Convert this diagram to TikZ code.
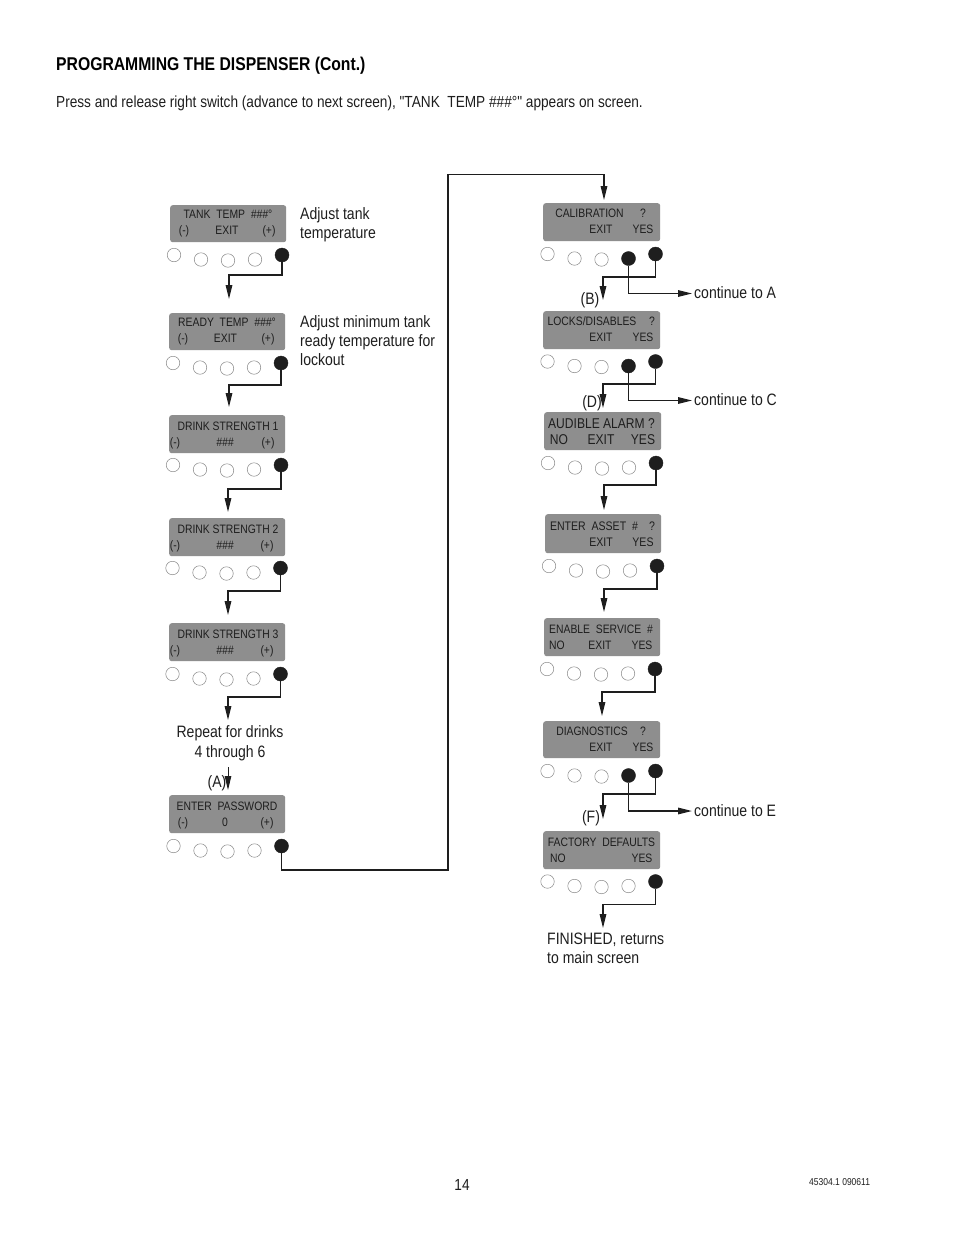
\documentclass[tikz,border=0pt]{standalone}
\usepackage{fontspec}
\setmainfont[FakeStretch=0.85]{Liberation Sans}
\newfontfamily\plainf[FakeStretch=0.85]{Liberation Sans}
\usetikzlibrary{arrows.meta}
\definecolor{lcd}{HTML}{8E8E8E}
\definecolor{ink}{HTML}{1E1E1E}
\definecolor{rim}{HTML}{8A8A8A}
\tikzset{
  x=1pt,y=-1pt,
  lcdbox/.style={draw=none,fill=lcd,rounded corners=2.5pt},
  lcdtxt/.style={anchor=base,inner sep=0pt,text=ink,font=\fontsize{12.2}{14}\selectfont},
  lcdbig/.style={lcdtxt,font=\fontsize{14.2}{17}\selectfont},
  lcdmid/.style={lcdtxt,font=\fontsize{12.4}{15}\selectfont},
  btnoff/.style={circle,draw=rim,line width=0.5pt,fill=white,minimum size=13.5pt,inner sep=0pt},
  btnon/.style={circle,draw=ink,fill=ink,minimum size=14pt,inner sep=0pt},
  conn/.style={draw=ink,line width=1.4pt,-{Triangle[length=14pt,width=6.5pt]}},
  lbl/.style={anchor=base west,inner sep=0pt,text=ink,align=left,font=\fontsize{16.5}{19}\selectfont},
  lblc/.style={anchor=base,inner sep=0pt,text=ink,align=center,font=\fontsize{16.5}{19.5}\selectfont},
}
\newcommand{\hh}{\textit{\#\#\#}}
% name, x0,y0,x1,y1
\newcommand{\lcdp}[5]{\node[lcdbox,anchor=north west,minimum width=#4pt-#2pt,minimum height=#5pt-#3pt,inner sep=0pt] (#1) at (#2,#3) {};}
% name, x of first, y of first, fourth style
\newcommand{\btns}[4]{%
  \node[btnoff] (#1a) at (#2,#3) {};
  \node[btnoff] (#1b) at ({#2+27},{#3+4.5}) {};
  \node[btnoff] (#1c) at ({#2+54},{#3+5.5}) {};
  \node[#4] (#1d) at ({#2+81},{#3+4.5}) {};
  \node[btnon] (#1e) at ({#2+108},{#3}) {};}
% source, x, elbow y, tip y
\newcommand{\cn}[4]{%
  \coordinate (#1E) at (#2,#3);
  \coordinate (#1T) at (#2,#4);
  \draw[conn] (#1.south) |- (#1E) -- (#1T);}
% source, elbow y, tip x
\newcommand{\cnr}[3]{%
  \coordinate (#1E) at (#3,#2);
  \draw[conn] (#1.south) |- (#1E);}
\begin{document}
\begin{tikzpicture}
\useasboundingbox (0,0) rectangle (954,1235);
\fill[white] (0,0) rectangle (954,1235);
\node[anchor=base west,inner sep=0pt,text=black,font=\fontsize{18.5}{20}\selectfont\bfseries] (title) at (56,70) {PROGRAMMING THE DISPENSER (Cont.)};
\node[anchor=base west,inner sep=0pt,text=ink,font=\fontsize{16.05}{18}\selectfont\plainf] (intro) at (56,107) {Press and release right switch (advance to next screen), "TANK~~TEMP \#\#\#°" appears on screen.};

% ---- left column
\lcdp{p1}{170}{205}{286}{242}
\node[lcdtxt] (p1t) at (228,218) {TANK~~TEMP~~\hh°};
\node[lcdtxt] (p1l) at (184,234) {(-)};
\node[lcdtxt] (p1m) at (227,234) {EXIT};
\node[lcdtxt] (p1r) at (269,234) {(+)};
\btns{a}{174}{255}{btnoff}

\lcdp{p2}{169}{313}{285}{350}
\node[lcdtxt] (p2t) at (227,326) {READY~~TEMP~~\hh°};
\node[lcdtxt] (p2l) at (183,342) {(-)};
\node[lcdtxt] (p2m) at (225.5,342) {EXIT};
\node[lcdtxt] (p2r) at (268,342) {(+)};
\btns{b}{173}{363}{btnoff}

\lcdp{p3}{169}{415}{285}{453}
\node[lcdtxt] (p3t) at (228,430) {DRINK STRENGTH 1};
\node[lcdtxt] (p3l) at (175,446) {(-)};
\node[lcdtxt] (p3m) at (225,446) {\hh};
\node[lcdtxt] (p3r) at (268,446) {(+)};
\btns{c}{173}{465}{btnoff}

\lcdp{p4}{169}{518}{285}{556}
\node[lcdtxt] (p4t) at (228,533) {DRINK STRENGTH 2};
\node[lcdtxt] (p4l) at (175,549) {(-)};
\node[lcdtxt] (p4m) at (225,549) {\hh};
\node[lcdtxt] (p4r) at (267,549) {(+)};
\btns{d}{172.5}{568}{btnoff}

\lcdp{p5}{169}{623}{285}{661}
\node[lcdtxt] (p5t) at (228,638) {DRINK STRENGTH 3};
\node[lcdtxt] (p5l) at (175,654) {(-)};
\node[lcdtxt] (p5m) at (225,654) {\hh};
\node[lcdtxt] (p5r) at (267,654) {(+)};
\btns{e}{172.5}{674}{btnoff}

\lcdp{p6}{169}{795}{285}{833}
\node[lcdtxt] (p6t) at (227,810) {ENTER~~PASSWORD};
\node[lcdtxt] (p6l) at (183,826) {(-)};
\node[lcdtxt] (p6m) at (225,826) {0};
\node[lcdtxt] (p6r) at (267,826) {(+)};
\btns{f}{173.5}{846}{btnoff}

\node[lbl] (n1) at (300,238) {Adjust tank\\temperature};
\node[lbl] (n2) at (300,365.5) {Adjust minimum tank\\ready temperature for\\lockout};
\node[lblc] (n3) at (230,757) {Repeat for drinks\\4 through 6};
\node[lblc] (nA) at (217,787) {(A)};

\cn{ae}{229}{275}{299}
\cn{be}{229}{385}{407}
\cn{ce}{228}{489}{512}
\cn{de}{228}{591}{615}
\cn{ee}{228}{697}{720}
\coordinate (aS) at (228,767);
\coordinate (aT) at (228,790);
\draw[draw=ink,line width=1pt,-{Triangle[length=14pt,width=6.5pt]}] (aS) -- (aT);

% long link
\coordinate (L1) at (448,870);
\coordinate (L2) at (448,174.5);
\coordinate (L3) at (604,174.5);
\coordinate (L4) at (604,200);
\draw[conn] (fe.south) |- (L1) -- (L2) -- (L3) -- (L4);

% ---- right column
\lcdp{q1}{543}{203}{660}{241}
\node[lcdtxt] (q1t) at (589.5,217) {CALIBRATION};
\node[lcdtxt] (q1q) at (643,217) {?};
\node[lcdtxt] (q1m) at (601,233) {EXIT};
\node[lcdtxt] (q1r) at (643,233) {YES};
\btns{g}{547.5}{254}{btnon}

\lcdp{q2}{543}{311}{660}{349}
\node[lcdtxt] (q2t) at (592,325) {LOCKS/DISABLES};
\node[lcdtxt] (q2q) at (652,325) {?};
\node[lcdtxt] (q2m) at (601,341) {EXIT};
\node[lcdtxt] (q2r) at (643,341) {YES};
\btns{h}{547.5}{361.5}{btnon}

\lcdp{q3}{544}{412}{661}{450}
\node[lcdbig] (q3t) at (601.5,428) {AUDIBLE ALARM ?};
\node[lcdbig] (q3l) at (559,444) {NO};
\node[lcdbig] (q3m) at (601,444) {EXIT};
\node[lcdbig] (q3r) at (643,444) {YES};
\btns{i}{548}{463}{btnoff}

\lcdp{q4}{545}{514}{661}{553}
\node[lcdmid] (q4t) at (594,530) {ENTER~~ASSET~~\#};
\node[lcdmid] (q4q) at (652,530) {?};
\node[lcdmid] (q4m) at (601,546) {EXIT};
\node[lcdmid] (q4r) at (643,546) {YES};
\btns{j}{549}{566}{btnoff}

\lcdp{q5}{544}{618}{660}{656}
\node[lcdtxt] (q5t) at (601,633) {ENABLE~~SERVICE~~\#};
\node[lcdtxt] (q5l) at (557,649) {NO};
\node[lcdtxt] (q5m) at (600,649) {EXIT};
\node[lcdtxt] (q5r) at (642,649) {YES};
\btns{k}{547}{669}{btnoff}

\lcdp{q6}{543}{721}{660}{758}
\node[lcdtxt] (q6t) at (592,735) {DIAGNOSTICS};
\node[lcdtxt] (q6q) at (643,735) {?};
\node[lcdtxt] (q6m) at (601,751) {EXIT};
\node[lcdtxt] (q6r) at (643,751) {YES};
\btns{m}{547.5}{771}{btnon}

\lcdp{q7}{543}{831}{660}{869}
\node[lcdtxt] (q7t) at (601.5,846) {FACTORY~~DEFAULTS};
\node[lcdtxt] (q7l) at (558,862) {NO};
\node[lcdtxt] (q7r) at (642,862) {YES};
\btns{o}{547.5}{881.5}{btnoff}

\node[lblc] (nB) at (590,304) {(B)};
\node[lblc] (nD) at (592,407) {(D)};
\node[lblc] (nF) at (591,822) {(F)};
\node[lbl] (cA) at (694,298) {continue to A};
\node[lbl] (cC) at (694,405) {continue to C};
\node[lbl] (cE) at (694,816) {continue to E};
\node[lbl] (nX) at (547,963.5) {FINISHED, returns\\to main screen};

\cn{ge}{603}{277}{300}
\cnr{gd}{293.5}{692}
\cn{he}{603}{384}{408}
\cnr{hd}{400.5}{692}
\cn{ie}{604}{485}{510}
\cn{je}{604}{589}{612}
\cn{ke}{602}{692}{716}
\cn{me}{603}{794}{819}
\cnr{md}{811}{692}
\cn{oe}{603}{904.5}{928}

\node[anchor=base,inner sep=0pt,text=ink,font=\fontsize{16}{18}\selectfont] (pg) at (462,1190) {14};
\node[anchor=base west,inner sep=0pt,text=ink,font=\fontsize{10}{12}\selectfont] (doc) at (809,1185) {45304.1 090611};
\end{tikzpicture}
\end{document}
